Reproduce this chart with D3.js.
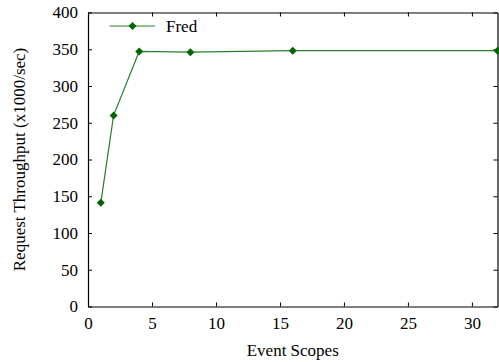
<!DOCTYPE html>
<html>
<head>
<meta charset="utf-8">
<script src="https://cdn.jsdelivr.net/npm/d3@7"></script>
<style>
  html, body { margin: 0; padding: 0; background: #fff; }
  svg text { font-family: "Liberation Serif", "Times New Roman", serif; fill: #000; }
</style>
</head>
<body>
<svg id="chart" width="499" height="362"></svg>
<script>
// Throughput measured for each number of event scopes
const scopes = [1, 2, 4, 8, 16, 32];
const throughput = [141, 260, 347, 346, 348, 348];
const seriesName = "Fred";
const xTicks = [0, 5, 10, 15, 20, 25, 30];
const yTicks = [0, 50, 100, 150, 200, 250, 300, 350, 400];

const W = 499, H = 362;
const margin = { left: 88, right: 1.5, top: 12.5, bottom: 55.5 };
const svg = d3.select("#chart");
const serif = "Liberation Serif, Times New Roman, serif";

const x = d3.scaleLinear().domain([0, 32]).range([margin.left, W - margin.right]);
const y = d3.scaleLinear().domain([0, 400]).range([H - margin.bottom, margin.top]);

const fontSize = 17;
const tickLen = 4;

// mirrored inward ticks on all four sides
const axes = [
  { axis: d3.axisBottom(x).tickValues(xTicks).tickSizeInner(-tickLen).tickSizeOuter(0).tickPadding(10), t: `translate(0,${y(0)})`, labels: true },
  { axis: d3.axisTop(x).tickValues(xTicks).tickSizeInner(-tickLen).tickSizeOuter(0), t: `translate(0,${y(400)})`, labels: false },
  { axis: d3.axisLeft(y).tickValues(yTicks).tickSizeInner(-tickLen).tickSizeOuter(0).tickPadding(10), t: `translate(${x(0)},0)`, labels: true },
  { axis: d3.axisRight(y).tickValues(yTicks).tickSizeInner(-tickLen).tickSizeOuter(0), t: `translate(${x(32)},0)`, labels: false }
];
axes.forEach(a => {
  const g = svg.append("g").attr("transform", a.t).call(a.axis)
    .attr("font-family", serif)
    .attr("font-size", fontSize);
  g.select(".domain").attr("stroke", "#000").attr("stroke-width", 1.2);
  g.selectAll(".tick line").attr("stroke", "#000");
  g.selectAll(".tick text").attr("fill", "#000");
  if (!a.labels) g.selectAll(".tick text").remove();
});

const lineColor = "#2a7f2a";
const markColor = "#006400";

const pts = scopes.map((s, i) => [s, throughput[i]]);
const line = d3.line().x(d => x(d[0])).y(d => y(d[1]));

svg.append("path")
  .datum(pts)
  .attr("fill", "none")
  .attr("stroke", lineColor)
  .attr("stroke-width", 1.2)
  .attr("d", line);

const diamond = r => `M0,${-r}L${r},0L0,${r}L${-r},0Z`;

svg.append("g").selectAll("path")
  .data(pts)
  .join("path")
  .attr("transform", d => `translate(${x(d[0])},${y(d[1])})`)
  .attr("d", diamond(4))
  .attr("fill", markColor);

// legend
const lg = svg.append("g");
lg.append("line").attr("x1", 109.5).attr("x2", 155).attr("y1", 26).attr("y2", 26)
  .attr("stroke", lineColor).attr("stroke-width", 1.2);
lg.append("path").attr("transform", "translate(132.5,26)").attr("d", diamond(4)).attr("fill", markColor);
lg.append("text").attr("x", 166).attr("y", 31.5).attr("font-size", fontSize).text(seriesName);

// axis titles
svg.append("text")
  .attr("x", (x(0) + x(32)) / 2).attr("y", 356)
  .attr("text-anchor", "middle")
  .attr("font-size", fontSize)
  .text("Event Scopes");

svg.append("text")
  .attr("transform", `translate(25,${(y(0) + y(400)) / 2}) rotate(-90)`)
  .attr("text-anchor", "middle")
  .attr("font-size", fontSize)
  .text("Request Throughput (x1000/sec)");
</script>
</body>
</html>
